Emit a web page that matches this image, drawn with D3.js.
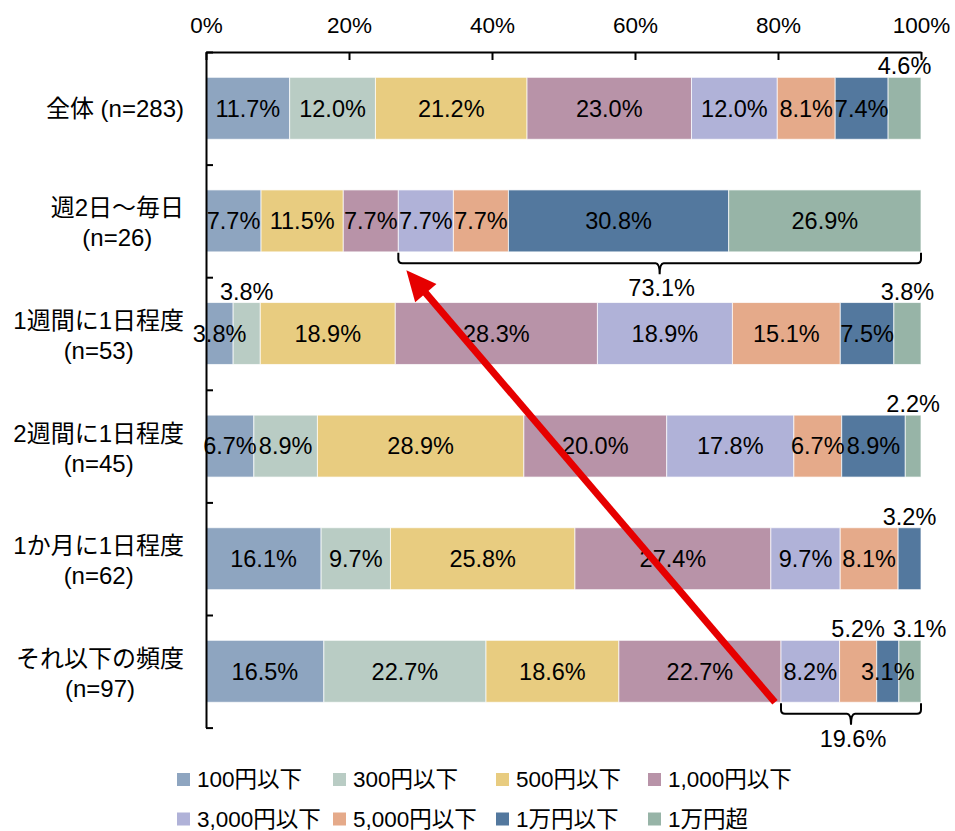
<!DOCTYPE html>
<html>
<head>
<meta charset="utf-8">
<script src="https://cdn.jsdelivr.net/npm/d3@7"></script>
<style>
  html, body { margin: 0; padding: 0; background: #fff; }
  svg { display: block; font-family: "Liberation Sans", Arial, "Noto Sans CJK JP", sans-serif; }
</style>
</head>
<body>
<svg id="chart" width="955" height="831"></svg>
<script>
// ---------- DATA ----------
const rowLabels = [
  ["全体 (n=283)"],
  ["週2日～毎日", "(n=26)"],
  ["1週間に1日程度", "(n=53)"],
  ["2週間に1日程度", "(n=45)"],
  ["1か月に1日程度", "(n=62)"],
  ["それ以下の頻度", "(n=97)"]
];
const seriesNames = ["100円以下", "300円以下", "500円以下", "1,000円以下", "3,000円以下", "5,000円以下", "1万円以下", "1万円超"];
const seriesColors = ["#8EA5C0", "#B9CCC4", "#E8CC80", "#B893A8", "#B0B2D8", "#E5AA8A", "#53789E", "#97B4A7"];

const v100   = [11.7,  7.7,  3.8,  6.7, 16.1, 16.5];
const v300   = [12.0,  0.0,  3.8,  8.9,  9.7, 22.7];
const v500   = [21.2, 11.5, 18.9, 28.9, 25.8, 18.6];
const v1000  = [23.0,  7.7, 28.3, 20.0, 27.4, 22.7];
const v3000  = [12.0,  7.7, 18.9, 17.8,  9.7,  8.2];
const v5000  = [ 8.1,  7.7, 15.1,  6.7,  8.1,  5.2];
const v10000 = [ 7.4, 30.8,  7.5,  8.9,  3.2,  3.1];
const vOver  = [ 4.6, 26.9,  3.8,  2.2,  0.0,  3.1];

const xTickValues = [0, 0.2, 0.4, 0.6, 0.8, 1.0];

// labels drawn above the bar instead of inside: [row, series]
const outsideLabels = [[0, 7], [2, 1], [2, 7], [3, 7], [4, 6], [5, 5], [5, 7]];
// brace annotations: row, first series, last series
const braces = [
  { row: 1, from: 4, to: 7 },
  { row: 5, from: 4, to: 7 }
];

// ---------- LAYOUT ----------
(function () {
const svg = d3.select("#chart");
const mLeft = 206, mRight = 921, mTop = 52, mBottom = 727.6;
const FONT = 23.5, ROWFONT = 24;

const allSeries = [v100, v300, v500, v1000, v3000, v5000, v10000, vOver];
const table = rowLabels.map((r, i) => {
  const o = { row: i };
  seriesNames.forEach((s, j) => { o[s] = allSeries[j][i]; });
  return o;
});

const stack = d3.stack().keys(seriesNames).offset(d3.stackOffsetExpand);
const stacked = stack(table);

const x = d3.scaleLinear().domain([0, 1]).range([mLeft, mRight]);
const y = d3.scaleBand().domain(d3.range(rowLabels.length)).range([mTop, mBottom])
  .paddingInner(0.45).paddingOuter(0.225);
const yEdge = d3.scaleLinear().domain([0, rowLabels.length]).range([mTop, mBottom]);

// bars
const gBars = svg.append("g");
stacked.forEach((layer, j) => {
  gBars.selectAll(null)
    .data(layer)
    .join("rect")
    .attr("x", d => x(d[0]))
    .attr("y", (d, i) => y(i))
    .attr("width", d => Math.max(0, x(d[1]) - x(d[0])))
    .attr("height", y.bandwidth())
    .attr("fill", seriesColors[j])
    .attr("stroke", "#ffffff")
    .attr("stroke-opacity", 0.7)
    .attr("stroke-width", 1);
});

// axes
const xAxis = d3.axisTop(x).tickValues(xTickValues).tickFormat(d3.format(".0%"))
  .tickSizeInner(-8).tickSizeOuter(0).tickPadding(19);
const gx = svg.append("g").attr("transform", `translate(0,${mTop})`).call(xAxis);
gx.selectAll("text").attr("font-size", 22.5).attr("fill", "#000")
  .attr("font-family", "'Liberation Sans', Arial, sans-serif");
gx.selectAll("line").attr("stroke", "#000").attr("stroke-width", 2);
gx.select(".domain").attr("stroke", "#000").attr("stroke-width", 2);

const yAxis = d3.axisLeft(yEdge).ticks(rowLabels.length).tickFormat("")
  .tickSizeInner(-7).tickSizeOuter(0);
const gy = svg.append("g").attr("transform", `translate(${mLeft},0)`).call(yAxis);
gy.selectAll("line").attr("stroke", "#000").attr("stroke-width", 2);
gy.select(".domain").attr("stroke", "#000").attr("stroke-width", 2);

// row labels
const gRow = svg.append("g");
rowLabels.forEach((lines, i) => {
  const cy = y(i) + y.bandwidth() / 2;
  const t = gRow.append("text").attr("font-size", ROWFONT).attr("fill", "#000").attr("text-anchor", "middle");
  const offs = lines.length === 1 ? [0] : [-13, 17];
  const tspans = lines.map((ln, k) => t.append("tspan").attr("y", cy + offs[k]).attr("dy", "0.35em").text(ln));
  let w = 0;
  tspans.forEach(ts => { w = Math.max(w, ts.node().getComputedTextLength()); });
  const cx = 184 - w / 2;
  tspans.forEach(ts => ts.attr("x", cx));
});

// value labels
const isOutside = (r, s) => outsideLabels.some(p => p[0] === r && p[1] === s);
const fmt = v => v.toFixed(1) + "%";
const gLab = svg.append("g").attr("font-size", FONT).attr("fill", "#000").attr("text-anchor", "middle");
rowLabels.forEach((_, i) => {
  let prevOutsideEnd = -Infinity;
  stacked.forEach((layer, j) => {
    const v = allSeries[j][i];
    if (!v) return;
    const d = layer[i];
    const cx = (x(d[0]) + x(d[1])) / 2;
    if (isOutside(i, j)) {
      const t = gLab.append("text").attr("x", cx).attr("y", y(i) - 3).text(fmt(v));
      const w = t.node().getComputedTextLength();
      let px = cx;
      if (px - w / 2 < prevOutsideEnd + 8) { px = prevOutsideEnd + 8 + w / 2; t.attr("x", px); }
      prevOutsideEnd = px + w / 2;
    } else {
      gLab.append("text").attr("x", cx).attr("y", y(i) + y.bandwidth() / 2).attr("dy", "0.35em").text(fmt(v));
    }
  });
});

// braces
const gBr = svg.append("g");
const braceTips = [];
braces.forEach(b => {
  const x0 = x(stacked[b.from][b.row][0]);
  const x1 = x(stacked[b.to][b.row][1]);
  const xc = (x0 + x1) / 2;
  const y0 = y(b.row) + y.bandwidth() + 1;
  const y1 = y0 + 10.5;
  const tip = y1 + 11;
  const r = 4;
  const p = `M${x0},${y0} V${y1 - r} Q${x0},${y1} ${x0 + r},${y1} H${xc - r} Q${xc},${y1} ${xc},${tip}`
          + ` Q${xc},${y1} ${xc + r},${y1} H${x1 - r} Q${x1},${y1} ${x1},${y1 - r} V${y0}`;
  gBr.append("path").attr("d", p).attr("fill", "none").attr("stroke", "#000").attr("stroke-width", 2);
  let sum = 0;
  for (let j = b.from; j <= b.to; j++) sum += allSeries[j][b.row];
  gBr.append("text").attr("x", xc + 2).attr("y", tip + 22).attr("font-size", FONT)
    .attr("text-anchor", "middle").attr("fill", "#000").text(sum.toFixed(1) + "%");
  braceTips.push({ x0, x1, y0, y1 });
});

// red arrow: from lower brace start (bottom of last row) to the upper brace start
const tailX = braceTips[1].x0 - 6, tailY = y(5) + y.bandwidth();
const headX = braceTips[0].x0 + 8, headY = braceTips[0].y1 + 7;
const ang = Math.atan2(headY - tailY, headX - tailX);
const hl = 30, hw = 14;
const bx = headX - hl * Math.cos(ang), by = headY - hl * Math.sin(ang);
const gA = svg.append("g");
gA.append("line").attr("x1", tailX).attr("y1", tailY).attr("x2", bx + 4 * Math.cos(ang)).attr("y2", by + 4 * Math.sin(ang))
  .attr("stroke", "#E60000").attr("stroke-width", 7);
gA.append("polygon")
  .attr("points", [
    [headX, headY],
    [bx + hw * Math.sin(ang), by - hw * Math.cos(ang)],
    [bx - hw * Math.sin(ang), by + hw * Math.cos(ang)]
  ].map(p => p.join(",")).join(" "))
  .attr("fill", "#E60000");

// legend
const legX = [177, 333, 496, 648];
const legY = [779.5, 819];
const gLeg = svg.append("g");
seriesNames.forEach((s, j) => {
  const cx = legX[j % 4], cy = legY[Math.floor(j / 4)];
  gLeg.append("rect").attr("x", cx).attr("y", cy - 6.5).attr("width", 13).attr("height", 13).attr("fill", seriesColors[j]);
  gLeg.append("text").attr("x", cx + 20).attr("y", cy).attr("dy", "0.34em").attr("font-size", 22.5).attr("fill", "#000").text(s);
});
})();
</script>
</body>
</html>
